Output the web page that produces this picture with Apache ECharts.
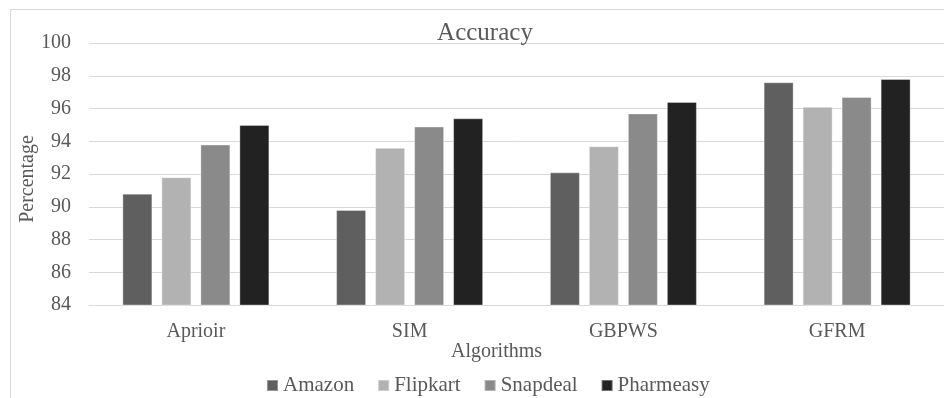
<!DOCTYPE html>
<html>
<head>
<meta charset="utf-8">
<script src="https://cdn.jsdelivr.net/npm/echarts@6/dist/echarts.min.js"></script>
<style>
  html, body { margin: 0; padding: 0; background: #fff; }
  #chart { width: 944px; height: 398px; }
</style>
</head>
<body>
<div id="chart"></div>
<script>
var categories = ['Aprioir', 'SIM', 'GBPWS', 'GFRM'];
var amazon = [90.8, 89.8, 92.1, 97.6];
var flipkart = [91.8, 93.6, 93.7, 96.1];
var snapdeal = [93.8, 94.9, 95.7, 96.7];
var pharmeasy = [95.0, 95.4, 96.4, 97.8];
var seriesNames = ['Amazon', 'Flipkart', 'Snapdeal', 'Pharmeasy'];
var seriesColors = ['#5f5f5f', '#b2b2b2', '#8a8a8a', '#222222'];

var font = 'Liberation Serif, Times New Roman, serif';
var dom = document.getElementById('chart');
var myChart = echarts.init(dom);

function bar(name, data, color) {
    return {
        name: name,
        type: 'bar',
        data: data,
        barWidth: 30,
        barGap: '30%',
        itemStyle: { color: color, borderColor: 'rgba(255,255,255,0.35)', borderWidth: 1 }
    };
}

var option = {
    animation: false,
    backgroundColor: '#fff',
    title: {
        text: 'Accuracy',
        left: 480,
        top: 16,
        textAlign: 'center',
        textStyle: { fontFamily: font, fontSize: 25, fontWeight: 'normal', color: '#595959' }
    },
    graphic: [{
        type: 'rect',
        shape: { x: 10.5, y: 9.5, width: 960, height: 420 },
        style: { fill: 'none', stroke: '#d9d9d9', lineWidth: 1 },
        silent: true
    }],
    legend: {
        top: 370,
        left: 261,
        itemWidth: 11,
        itemHeight: 11,
        itemGap: 23,
        icon: 'rect',
        textStyle: { fontFamily: font, fontSize: 21, color: '#595959' },
        data: seriesNames
    },
    grid: { left: 89, top: 43, width: 862, height: 262 },
    xAxis: {
        type: 'category',
        data: categories,
        name: 'Algorithms',
        nameLocation: 'middle',
        nameGap: 37,
        nameMoveOverlap: false,
        nameTextStyle: { fontFamily: font, fontSize: 20, color: '#595959', padding: [0, 40, 0, 0] },
        axisLine: { lineStyle: { color: '#d9d9d9', width: 1 } },
        axisTick: { show: false },
        axisLabel: { fontFamily: font, fontSize: 20, color: '#595959', margin: 17 }
    },
    yAxis: {
        type: 'value',
        min: 84,
        max: 100,
        interval: 2,
        name: 'Percentage',
        nameLocation: 'middle',
        nameGap: 51,
        nameMoveOverlap: false,
        nameTextStyle: { fontFamily: font, fontSize: 20, color: '#595959', padding: [0, 10, 0, 0] },
        axisLine: { show: false },
        axisTick: { show: false },
        axisLabel: { fontFamily: font, fontSize: 20, color: '#595959', margin: 18 },
        splitLine: { lineStyle: { color: '#d9d9d9', width: 1 } }
    },
    series: [
        bar(seriesNames[0], amazon, seriesColors[0]),
        bar(seriesNames[1], flipkart, seriesColors[1]),
        bar(seriesNames[2], snapdeal, seriesColors[2]),
        bar(seriesNames[3], pharmeasy, seriesColors[3])
    ]
};

if (option && typeof option === 'object') {
    myChart.setOption(option, true);
}
</script>
</body>
</html>
